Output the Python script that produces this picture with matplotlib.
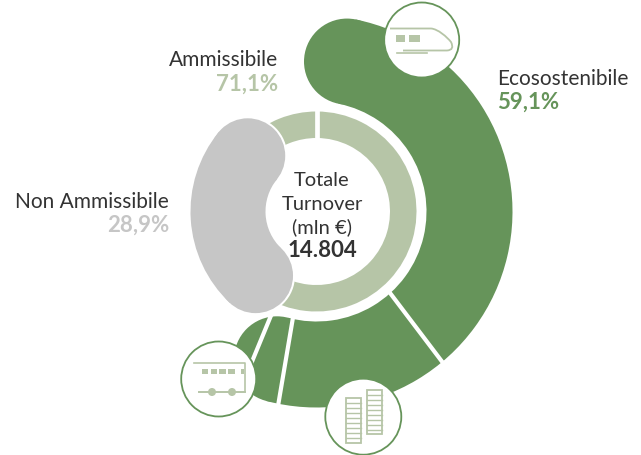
import numpy as np
import matplotlib
matplotlib.use('Agg')
import matplotlib.pyplot as plt
from matplotlib.patches import Wedge, Circle, Rectangle, PathPatch
from matplotlib.path import Path

plt.rcParams['font.family'] = ['Lato', 'DejaVu Sans']

# dati (percentuali sul turnover totale)
ammissibile = 71.1
non_ammissibile = 28.9
ecosostenibile = 59.1
totale = '14.804'
eco_segmenti = [38.6, 14.7, 3.2, 2.6]   # treni, edifici, bus, altro (stimati)

GREEN = '#66945a'
LIGHT = '#b6c5a7'
GREY = '#c6c6c6'
DARK = '#333333'
CX, CY = 316.5, 212.5


def deg(p):
    return p * 3.6


def polar(r, theta):
    t = np.radians(theta)
    return CX + r * np.sin(t), CY - r * np.cos(t)


def band(ax, r_in, r_out, t1, t2, color, zorder):
    # banda con estremi arrotondati
    mid = (r_in + r_out) / 2
    cap = (r_out - r_in) / 2
    for t in (t1, t2):
        ax.add_patch(Circle(polar(mid, t), cap, fc=color, ec='none', zorder=zorder))
    ax.add_patch(Wedge((CX, CY), r_out, t1 - 90, t2 - 90, width=r_out - r_in,
                       fc=color, ec='none', zorder=zorder))


fig = plt.figure(figsize=(6.41, 4.56), dpi=100)
ax = fig.add_axes([0, 0, 1, 1])
ax.set_xlim(0, 641)
ax.set_ylim(456, 0)
ax.axis('off')

# anello esterno verde
eco_end = deg(ecosostenibile)
band(ax, 110, 196, 11.5, eco_end - 17.8, GREEN, 2)
# i tagli bianchi non sono proprio radiali
tilt = [1.2, -0.7, -0.3]
for b, d in zip(np.cumsum(eco_segmenti)[:-1], tilt):
    x0, y0 = polar(106, deg(b) - d)
    x1, y1 = polar(200, deg(b) + d)
    ax.plot([x0, x1], [y0, y1], color='white', lw=3, zorder=3, solid_capstyle='butt')

# anello interno
ax.add_patch(Wedge((CX, CY), 100, 0 - 90, eco_end - 90, width=26.5, fc=LIGHT, ec='none', zorder=4))
ax.add_patch(Wedge((CX, CY), 100, eco_end + deg(non_ammissibile) - 90, deg(ammissibile + non_ammissibile) - 90,
                   width=26.5, fc=LIGHT, ec='none', zorder=4))
ax.plot([CX + 0.5, CX + 0.5], [CY - 104, CY - 70], color='white', lw=3.4, zorder=5, solid_capstyle='butt')

# non ammissibile, con bordo bianco sui cappucci
t_a, t_b = eco_end + 10.8, eco_end + deg(non_ammissibile) - 7.8
for t in (t_a, t_b):
    ax.add_patch(Circle(polar(88.5, t), 39.5, fc='white', ec='none', zorder=5.5))
band(ax, 51, 126, t_a, t_b, GREY, 6)

# icone
ICON = LIGHT
for c, r in [((421.7, 41), 37.5), ((218.7, 380), 37.5), ((363.3, 417.7), 38)]:
    ax.add_patch(Circle(c, r, fc='white', ec=GREEN, lw=1.3, zorder=8))

# treno
verts = [(390, 29.5), (431, 29.5), (438, 30), (447, 38), (451, 43), (455, 51), (447, 51.5), (403, 51.5)]
codes = [Path.MOVETO, Path.LINETO, Path.CURVE4, Path.CURVE4, Path.CURVE4, Path.CURVE3, Path.CURVE3, Path.LINETO]
ax.add_patch(PathPatch(Path(verts, codes), fc='none', ec=ICON, lw=1.3, zorder=9))
ax.plot([396.5, 426.5], [53.7, 53.7], color=ICON, lw=1.2, zorder=9)
ax.add_patch(Rectangle((396, 36), 9, 7.3, fc=ICON, ec='none', zorder=9))
ax.add_patch(Rectangle((408.7, 36), 11.6, 7.3, fc=ICON, ec='none', zorder=9))

# bus
ax.plot([193.5, 244.5, 244.5], [363.5, 363.5, 392.5], color=ICON, lw=1.2, zorder=9)
ax.plot([198.5, 244.5], [392.8, 392.8], color=ICON, lw=1.4, zorder=9)
for xb, wb in [(201.7, 6.7), (210.7, 6.7), (219.3, 6.7), (228, 6.7), (241, 3.3)]:
    ax.add_patch(Rectangle((xb, 370.3), wb, 5, fc=ICON, ec='none', zorder=9))
for xw in (212, 232):
    ax.add_patch(Circle((xw, 393), 4, fc=ICON, ec='none', zorder=9))

# edifici
for x0, y0, w, h in [(346, 399.3, 15, 45), (366.7, 390.7, 15, 44.7)]:
    ax.add_patch(Rectangle((x0, y0), w, h, fc='none', ec=ICON, lw=1.3, zorder=9))
    for y in np.arange(y0 + 5, y0 + h, 5):
        ax.plot([x0, x0 + w], [y, y], color=ICON, lw=1.0, zorder=9)

# testi
fs = 15
fb = 16
ax.text(278, 66, 'Ammissibile', ha='right', va='baseline', fontsize=fs, color=DARK, zorder=10)
ax.text(278, 91, f'{ammissibile:.1f}%'.replace('.', ','), ha='right', va='baseline', fontsize=fb, fontweight='bold', color=LIGHT, zorder=10)
ax.text(497, 85, 'Ecosostenibile', ha='left', va='baseline', fontsize=fs, color=DARK, zorder=10)
ax.text(497, 109, f'{ecosostenibile:.1f}%'.replace('.', ','), ha='left', va='baseline', fontsize=fb, fontweight='bold', color=GREEN, zorder=10)
ax.text(169, 208, 'Non Ammissibile', ha='right', va='baseline', fontsize=fs, color=DARK, zorder=10)
ax.text(169, 232, f'{non_ammissibile:.1f}%'.replace('.', ','), ha='right', va='baseline', fontsize=fb, fontweight='bold', color=GREY, zorder=10)
ax.text(322, 186, 'Totale', ha='center', va='baseline', fontsize=14.5, color=DARK, zorder=10)
ax.text(322, 210, 'Turnover', ha='center', va='baseline', fontsize=14.5, color=DARK, zorder=10)
ax.text(322, 233, '(mln €)', ha='center', va='baseline', fontsize=14.5, color=DARK, zorder=10)
ax.text(322, 257, totale, ha='center', va='baseline', fontsize=fb, fontweight='bold', color=DARK, zorder=10)

fig.savefig('out.png', dpi=100)
